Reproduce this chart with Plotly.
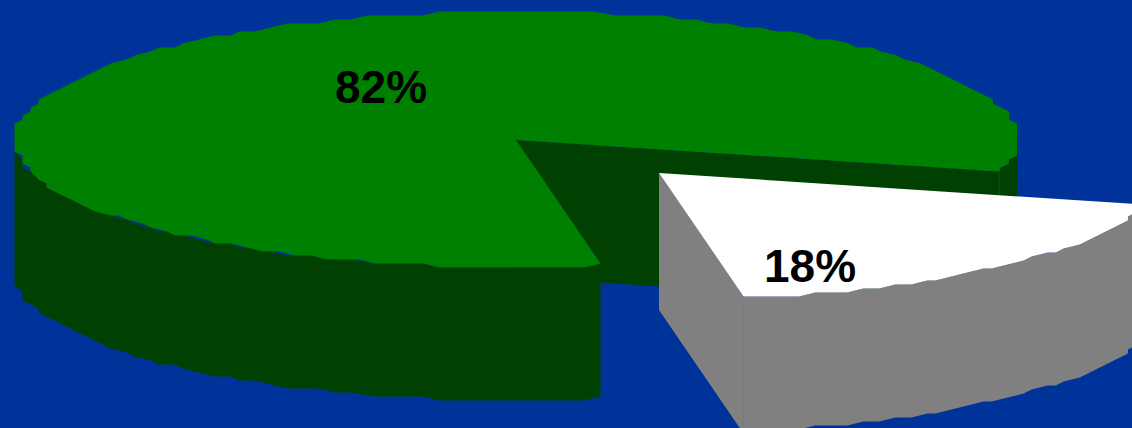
import math
import plotly.graph_objects as go

shares = [82, 18]
share_labels = ["82%", "18%"]

# Projection of the tilted pie onto the page, in pixel-like axis units.
CX, CY = 516, 140
RX, RY = 501.5, 128
DEPTH = 133
WALL_DEPTH = 137
EXPLODE = (143, 33)
CUT_START = -80.3          # angle where the small slice begins
GRID_X, GRID_Y = 8.02, 4   # coarse outline grid of the rim
ARC_STEP = 2.0             # degrees between outline vertices

TOP_GREEN = "#008000"
SIDE_GREEN = "#004000"
TOP_WHITE = "#ffffff"
SIDE_GREY = "#808080"
BACKGROUND = "#003399"


def snap_y(y, rounder=round):
    return rounder((y - (CY - RY)) / GRID_Y) * GRID_Y + CY - RY - 0.5


def rim(a):
    t = math.radians(a)
    return CX + RX * math.cos(t), CY - RY * math.sin(t)


def rim_end(a, dx=0, dy=0):
    """Exact rim position in x, floored to the outline grid in y."""
    x, y = rim(a)
    return x + dx, snap_y(y, math.floor) + dy


def arc(a0, a1, dx=0, dy=0):
    """Outline from angle a0 to a1, snapped to the coarse grid between its ends."""
    n = max(2, int(abs(a1 - a0) / ARC_STEP))
    left = CX - RX
    pts = [rim_end(a0, dx, dy)]
    for i in range(1, n):
        x, y = rim(a0 + (a1 - a0) * i / n)
        x = round((x - left) / GRID_X) * GRID_X + left + dx
        y = snap_y(y) + dy
        if (x, y) != pts[-1]:
            pts.append((x, y))
    pts.append(rim_end(a1, dx, dy))
    return pts


def polygon(fig, pts, color):
    xs = [p[0] for p in pts] + [pts[0][0]]
    ys = [p[1] for p in pts] + [pts[0][1]]
    fig.add_trace(go.Scatter(x=xs, y=ys, mode="lines", fill="toself", fillcolor=color,
                             line=dict(width=0, color=color), hoverinfo="skip", showlegend=False))


def seam(fig, top, depth, color):
    fig.add_trace(go.Scatter(x=[top[0], top[0]], y=[top[1], top[1] + depth], mode="lines",
                             line=dict(width=1, color=color), hoverinfo="skip", showlegend=False))


def extrude(pts, depth):
    return pts + [(x, y + depth) for x, y in reversed(pts)]


small_sweep = shares[1] / sum(shares) * 360
cut_end = CUT_START + small_sweep

fig = go.Figure()

# Large slice: cut wall, outer wall, then the top face.
polygon(fig, extrude([(CX, CY), rim_end(cut_end)], WALL_DEPTH), SIDE_GREEN)
polygon(fig, extrude(arc(cut_end, 0), DEPTH), SIDE_GREEN)
polygon(fig, extrude(arc(180, 360 + CUT_START), DEPTH), SIDE_GREEN)
seam(fig, rim_end(cut_end), DEPTH, "#0a4a3a")
polygon(fig, [(CX, CY)] + arc(cut_end, 360 + CUT_START), TOP_GREEN)

# Exploded small slice: cut wall, outer wall, top face.
ex, ey = EXPLODE
apex = (CX + ex, CY + ey)
polygon(fig, extrude([apex, rim_end(CUT_START, ex, ey)], WALL_DEPTH), SIDE_GREY)
polygon(fig, extrude(arc(CUT_START, cut_end, ex, ey), DEPTH), SIDE_GREY)
polygon(fig, [apex] + arc(CUT_START, cut_end, ex, ey), TOP_WHITE)
seam(fig, rim_end(CUT_START, ex, ey), WALL_DEPTH, "#6f7c94")

fig.add_annotation(x=381, y=87, xref="x", yref="y", text=f"<b>{share_labels[0]}</b>", showarrow=False,
                   font=dict(family="Liberation Sans", size=46, color="#000000"))
fig.add_annotation(x=810, y=266, xref="x", yref="y", text=f"<b>{share_labels[1]}</b>", showarrow=False,
                   font=dict(family="Liberation Sans", size=46, color="#000000"))

fig.update_layout(
    width=1132, height=428, margin=dict(l=0, r=0, t=0, b=0),
    paper_bgcolor=BACKGROUND, plot_bgcolor=BACKGROUND, showlegend=False,
    xaxis=dict(range=[0, 1132], visible=False, fixedrange=True),
    yaxis=dict(range=[428, 0], visible=False, fixedrange=True),
)
fig.write_html("out.html", config=dict(displayModeBar=False),
               default_width="1132px", default_height="428px")
